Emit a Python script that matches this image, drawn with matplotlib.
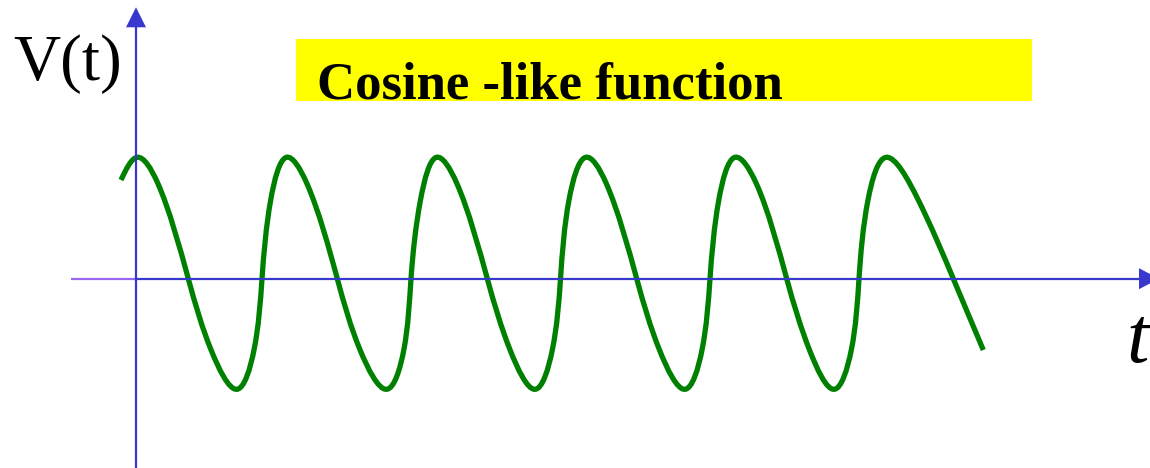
import numpy as np
import matplotlib.pyplot as plt
from matplotlib.path import Path
from matplotlib.patches import PathPatch, Polygon, Rectangle

# points (t to the right, V up, origin where the axes cross)
tempo = [-15, 1.3, 21.8, 52.3, 75.1, 100.7, 118, 126, 134.7,
         150.5, 170.8, 201.3, 224.1, 250.5, 267.8, 275, 284.5,
         300.5, 320.8, 351.3, 374.1, 399, 416.3, 424.5, 433,
         449.7, 470.2, 500.7, 523.5, 548.8, 566, 574, 582.8,
         599, 620.2, 650.7, 673.5, 698, 715.3, 723, 732,
         750.3, 782.3, 817.3, 847.3]
tensao = [98.7, 121.4, 95.4, 0, -71.3, -110.6, -71.3, 0, 78.7,
          121.4, 95.4, 0, -71.3, -110.6, -71.3, 0, 78.7,
          121.4, 95.4, 0, -71.3, -110.6, -71.3, 0, 78.7,
          121.4, 95.4, 0, -71.3, -110.6, -71.3, 0, 78.7,
          121.4, 95.4, 0, -71.3, -110.6, -71.3, 0, 78.7,
          121.4, 78.7, 0, -71.3]

titulo = "Cosine -like function"
rotulo_y = "V(t)"
rotulo_x = "t"

azul = '#3838cc'
roxo = '#9966ee'
verde = '#008000'


def derivadas(s, v):
    # slopes of a natural cubic spline at the knots
    n = len(s)
    h = np.diff(s)
    A = np.zeros((n, n))
    r = np.zeros(n)
    A[0, 0] = 1
    A[-1, -1] = 1
    for i in range(1, n - 1):
        A[i, i - 1] = h[i - 1]
        A[i, i] = 2 * (h[i - 1] + h[i])
        A[i, i + 1] = h[i]
        r[i] = 6 * ((v[i + 1] - v[i]) / h[i] - (v[i] - v[i - 1]) / h[i - 1])
    M = np.linalg.solve(A, r)
    d = np.zeros(n)
    d[:-1] = np.diff(v) / h - h * (2 * M[:-1] + M[1:]) / 6
    d[-1] = (v[-1] - v[-2]) / h[-1] + h[-1] * (M[-2] + 2 * M[-1]) / 6
    return d


def curva_suave(xs, ys):
    xs = np.array(xs, float)
    ys = np.array(ys, float)
    # centripetal parameter
    s = np.concatenate([[0], np.cumsum(np.hypot(np.diff(xs), np.diff(ys)) ** 0.5)])
    dx = derivadas(s, xs)
    dy = derivadas(s, ys)
    h = np.diff(s)
    verts = [(xs[0], ys[0])]
    codes = [Path.MOVETO]
    for i in range(len(xs) - 1):
        k = h[i] / 3
        verts.append((xs[i] + dx[i] * k, ys[i] + dy[i] * k))
        verts.append((xs[i + 1] - dx[i + 1] * k, ys[i + 1] - dy[i + 1] * k))
        verts.append((xs[i + 1], ys[i + 1]))
        codes += [Path.CURVE4] * 3
    return Path(verts, codes)


fig = plt.figure(figsize=(11.5, 4.68), dpi=100)
ax = fig.add_axes([0, 0, 1, 1])
ax.set_xlim(-136, 1014)
ax.set_ylim(-189.3, 278.7)
ax.axis('off')

# title box
ax.add_patch(Rectangle((160, 177.7), 736, 61.7, facecolor='yellow', edgecolor='none'))
ax.text(180.7, 180.4, titulo, fontsize=38, fontweight='bold',
        family='Liberation Serif', ha='left', va='baseline')

# axes with arrows
ax.plot([-65, 0], [0, 0], color=roxo, lw=1.6, solid_capstyle='butt')
ax.plot([0, 1005], [0, 0], color=azul, lw=1.6, solid_capstyle='butt')
ax.plot([0, 0], [-190, 253], color=azul, lw=1.6, solid_capstyle='butt')
ax.add_patch(Polygon([(-10, 251.4), (10, 251.4), (0, 271.4)], closed=True,
                     facecolor=azul, edgecolor='none'))
ax.add_patch(Polygon([(1003, 10.5), (1003, -10.5), (1023, 0)], closed=True,
                     facecolor=azul, edgecolor='none'))

ax.add_patch(PathPatch(curva_suave(tempo, tensao), facecolor='none',
                       edgecolor=verde, lw=3.8, capstyle='butt'))

ax.text(-123, 198.7, rotulo_y, fontsize=47, family='Liberation Serif',
        ha='left', va='baseline')
ax.text(990, -83.3, rotulo_x, fontsize=58, family='Liberation Serif',
        style='italic', ha='left', va='baseline')

plt.savefig('out.png', dpi=100)
